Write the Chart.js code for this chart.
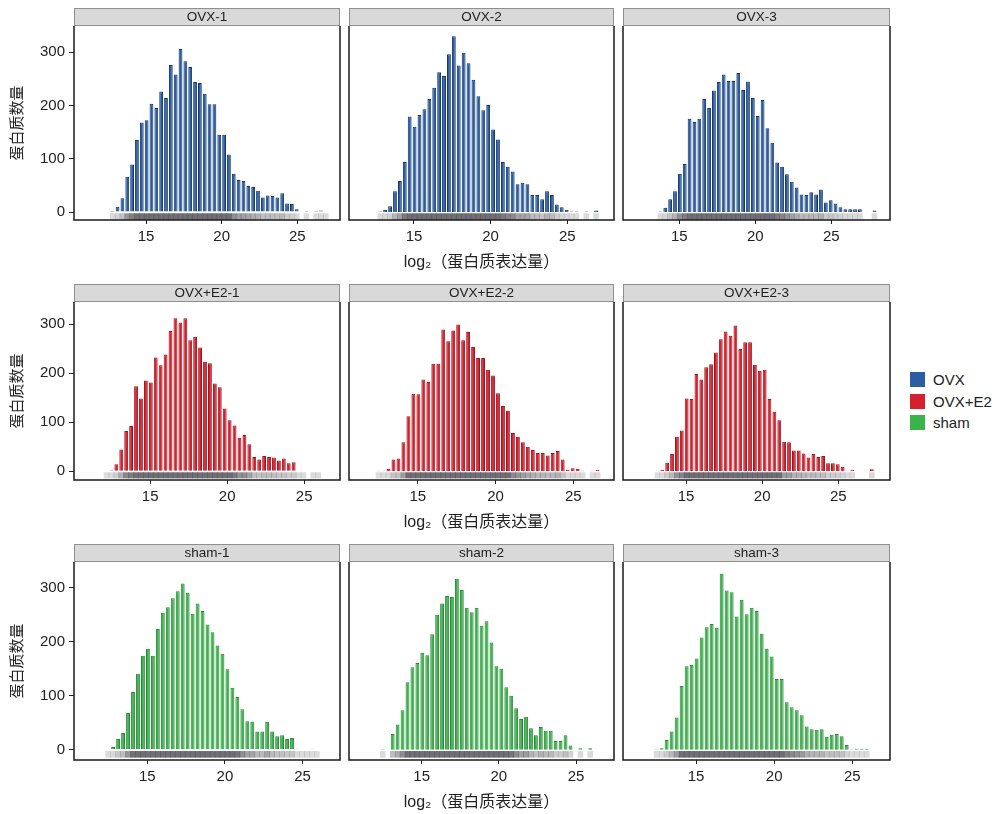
<!DOCTYPE html>
<html>
<head>
<meta charset="utf-8">
<script src="https://cdn.jsdelivr.net/npm/chart.js@4.4.6/dist/chart.umd.min.js"></script>
<style>
  body { margin: 0; background: #fff; width: 1000px; height: 814px; position: relative; overflow: hidden;
         font-family: "Liberation Sans", "Noto Sans CJK SC", sans-serif; }
  canvas { position: absolute; }
  .legend { position: absolute; left: 910px; top: 369px; font-size: 15px; color: #222; }
  .legend div { height: 21.5px; display: flex; align-items: center; }
  .legend span { display: inline-block; width: 15px; height: 15px; margin-right: 8px; }
</style>
</head>
<body>
<div class="legend" id="legend"></div>
<script>
  // histogram bin centres (log2 protein abundance), shared by all facets
  const binCenters = [12.16, 12.48, 12.80, 13.12, 13.44, 13.76, 14.08, 14.40, 14.72, 15.04,
    15.36, 15.68, 16.00, 16.32, 16.64, 16.96, 17.28, 17.60, 17.92, 18.24,
    18.56, 18.88, 19.20, 19.52, 19.84, 20.16, 20.48, 20.80, 21.12, 21.44,
    21.76, 22.08, 22.40, 22.72, 23.04, 23.36, 23.68, 24.00, 24.32, 24.64,
    24.96, 25.28, 25.60, 25.92, 26.24, 26.56, 26.88, 27.20, 27.52, 27.84, 28.16];

  const groups = ["OVX", "OVX+E2", "sham"];
  const panelNames = ["OVX-1", "OVX-2", "OVX-3", "OVX+E2-1", "OVX+E2-2", "OVX+E2-3", "sham-1", "sham-2", "sham-3"];
  // index into binCenters of the first bar of each facet
  const panelStart = [2, 2, 5, 0, 1, 3, 1, 1, 1];

  const ovx1 = [2, 10, 26, 66, 89, 135, 168, 172, 203, 195, 226, 214, 276, 258, 306, 283, 272, 244, 242, 222,
    202, 202, 145, 145, 108, 72, 60, 58, 49, 47, 40, 27, 31, 30, 27, 35, 16, 15, 5, 0, 2, 0, 2, 3, 1];
  const ovx2 = [1, 4, 11, 39, 58, 94, 179, 160, 182, 193, 212, 233, 262, 255, 296, 330, 275, 299, 279, 248,
    217, 191, 201, 155, 136, 94, 85, 76, 52, 55, 52, 32, 32, 24, 39, 32, 14, 9, 4, 1, 1, 0, 1, 0, 3];
  const ovx3 = [1, 8, 24, 39, 72, 90, 175, 169, 175, 212, 195, 228, 244, 258, 246, 246, 261, 229, 245, 214,
    180, 210, 157, 130, 93, 85, 71, 57, 46, 33, 32, 37, 33, 42, 18, 22, 16, 9, 5, 5, 5, 5, 0, 0, 3];
  const e2a = [1, 2, 14, 44, 82, 92, 173, 148, 185, 181, 232, 216, 238, 286, 312, 303, 312, 267, 274, 252,
    223, 220, 179, 171, 128, 104, 93, 68, 74, 55, 29, 24, 31, 29, 28, 22, 26, 16, 18, 1, 1, 0, 1, 1];
  const e2b = [1, 1, 5, 24, 26, 59, 112, 158, 157, 187, 182, 219, 219, 289, 265, 287, 299, 267, 284, 253,
    231, 231, 207, 195, 159, 133, 123, 78, 70, 59, 50, 43, 37, 37, 32, 37, 41, 24, 3, 6, 5, 1, 0, 1, 3];
  const e2c = [1, 3, 17, 35, 70, 83, 148, 147, 198, 187, 212, 218, 242, 269, 285, 276, 297, 249, 263, 263,
    217, 205, 207, 147, 121, 104, 60, 59, 42, 42, 36, 28, 35, 29, 31, 16, 16, 14, 9, 1, 3, 0, 0, 0, 4];
  const sham1 = [1, 5, 20, 31, 68, 107, 141, 174, 187, 174, 224, 254, 264, 281, 294, 308, 291, 252, 271, 257,
    232, 218, 193, 178, 149, 115, 98, 75, 53, 52, 34, 34, 52, 34, 25, 27, 20, 22, 2, 1, 1, 2, 1];
  const sham2 = [1, 0, 29, 47, 73, 125, 153, 161, 180, 175, 214, 250, 271, 285, 283, 317, 296, 263, 255, 263,
    230, 238, 199, 155, 150, 116, 100, 77, 57, 61, 40, 27, 42, 35, 35, 16, 16, 27, 8, 0, 3, 0, 3];
  const sham3 = [1, 3, 18, 34, 60, 118, 155, 157, 169, 208, 227, 233, 226, 326, 295, 292, 247, 278, 251, 263,
    257, 215, 187, 173, 131, 131, 88, 79, 73, 64, 43, 38, 37, 38, 24, 28, 29, 25, 9, 1, 2, 2, 2];

  const xTicks = [15, 20, 25];
  const yTicks = [0, 100, 200, 300];
  // x range of each facet (panels were pasted slightly unevenly)
  const xMin = [10.24, 10.76, 11.30, 10.05, 10.58, 10.86, 10.28, 10.29, 10.33];
  const xMax = [27.82, 28.05, 28.86, 27.33, 27.62, 28.39, 27.41, 27.46, 27.41];
  const yMin = [-15, -18, -19];
  const yMax = [349, 345, 348];

  const counts = [ovx1, ovx2, ovx3, e2a, e2b, e2c, sham1, sham2, sham3];
  const fills = { "OVX": "#2a5ea3", "OVX+E2": "#d5202d", "sham": "#3cb34a" };
  const edges = { "OVX": "#14366a", "OVX+E2": "#a1131d", "sham": "#278a39" };

  // page layout of the 3x3 grid
  const canvasLeft = [0, 345, 619];
  const canvasWidth = [341, 272, 274];
  const rowTop = [6, 282, 542];
  const rowBottom = [220, 480, 760];
  const font = '"Liberation Sans", "Noto Sans CJK SC", sans-serif';
  Chart.defaults.font.family = font;
  Chart.defaults.color = "#222";

  const facetPlugin = {
    id: "facet",
    beforeDraw(chart) {
      const tb = chart.titleBlock, a = chart.chartArea, ctx = chart.ctx;
      ctx.save();
      ctx.fillStyle = "#d9d9d9";
      ctx.fillRect(a.left, tb.top, a.right - a.left, tb.bottom - tb.top);
      ctx.strokeStyle = "#8f8f8f";
      ctx.lineWidth = 1;
      ctx.strokeRect(a.left + 0.5, tb.top + 0.5, a.right - a.left - 1, tb.bottom - tb.top - 1);
      ctx.restore();
    },
    afterDraw(chart) {
      const a = chart.chartArea, ctx = chart.ctx;
      ctx.save();
      ctx.strokeStyle = "#1a1a1a";
      ctx.lineWidth = 1.5;
      ctx.beginPath();
      ctx.moveTo(a.left, a.top);
      ctx.lineTo(a.left, a.bottom);
      ctx.lineTo(a.right, a.bottom);
      ctx.lineTo(a.right, a.top);
      ctx.stroke();
      ctx.restore();
    }
  };

  panelNames.forEach((name, p) => {
    const row = Math.floor(p / 3), col = p % 3;
    const group = groups[row];
    const vals = counts[p];
    const bars = vals.map((v, i) => ({ x: binCenters[panelStart[p] + i], y: v }));
    const rug = vals.map((v, i) => ({ x: binCenters[panelStart[p] + i], y: [-14, -3] }));
    const rugColours = vals.map(v => v > 0 ? `rgba(85,85,92,${Math.min(0.85, 0.2 + v / 160).toFixed(2)})` : "rgba(0,0,0,0)");

    const canvas = document.createElement("canvas");
    canvas.width = canvasWidth[col];
    canvas.height = rowBottom[row] + 52 - rowTop[row];
    canvas.style.left = canvasLeft[col] + "px";
    canvas.style.top = rowTop[row] + "px";
    document.body.appendChild(canvas);

    new Chart(canvas, {
      type: "bar",
      data: {
        datasets: [
          { data: bars, backgroundColor: fills[group], borderColor: edges[group], borderWidth: 1,
            barPercentage: 0.78, categoryPercentage: 1, grouped: false },
          { data: rug, backgroundColor: rugColours, borderWidth: 0,
            barPercentage: 1, categoryPercentage: 1, grouped: false }
        ]
      },
      options: {
        responsive: false,
        animation: false,
        layout: { padding: { top: 2, left: col === 0 ? 0 : 4, right: col === 0 ? 1 : 3 } },
        plugins: {
          legend: { display: false },
          tooltip: { enabled: false },
          title: { display: true, text: name, fullSize: false, padding: 0,
                   font: { size: 13.5, lineHeight: 18 / 13.5, weight: "normal" }, color: "#222" }
        },
        scales: {
          x: {
            type: "linear", min: xMin[p], max: xMax[p], offset: false,
            grid: { drawOnChartArea: false, drawTicks: true, tickLength: 4, color: "#222", offset: false },
            border: { display: false },
            ticks: { stepSize: 5, includeBounds: false, padding: 4, font: { size: 15 }, color: "#222",
                     callback: v => xTicks.includes(v) ? String(v) : "" },
            title: { display: col === 1, text: "log₂（蛋白质表达量）", font: { size: 16, lineHeight: 18 / 16 }, color: "#222",
                     padding: { top: 0, bottom: 0 } },
            afterFit: s => { s.height = 52; }
          },
          y: {
            display: col === 0,
            min: yMin[row], max: yMax[row],
            grid: { drawOnChartArea: false, drawTicks: true, tickLength: 5, color: "#222" },
            border: { display: false },
            ticks: { stepSize: 100, includeBounds: false, padding: 4, font: { size: 15 }, color: "#222",
                     callback: v => yTicks.includes(v) ? String(v) : "" },
            title: { display: true, text: "蛋白质数量", font: { size: 15 }, color: "#222",
                     padding: { top: 9, bottom: 0 } },
            afterFit: s => { s.width = col === 0 ? 74 : 0; }
          }
        }
      },
      plugins: [facetPlugin]
    });
  });

  const legend = document.getElementById("legend");
  groups.forEach(g => {
    const item = document.createElement("div");
    const box = document.createElement("span");
    box.style.background = fills[g];
    item.appendChild(box);
    item.appendChild(document.createTextNode(g));
    legend.appendChild(item);
  });
</script>
</body>
</html>
